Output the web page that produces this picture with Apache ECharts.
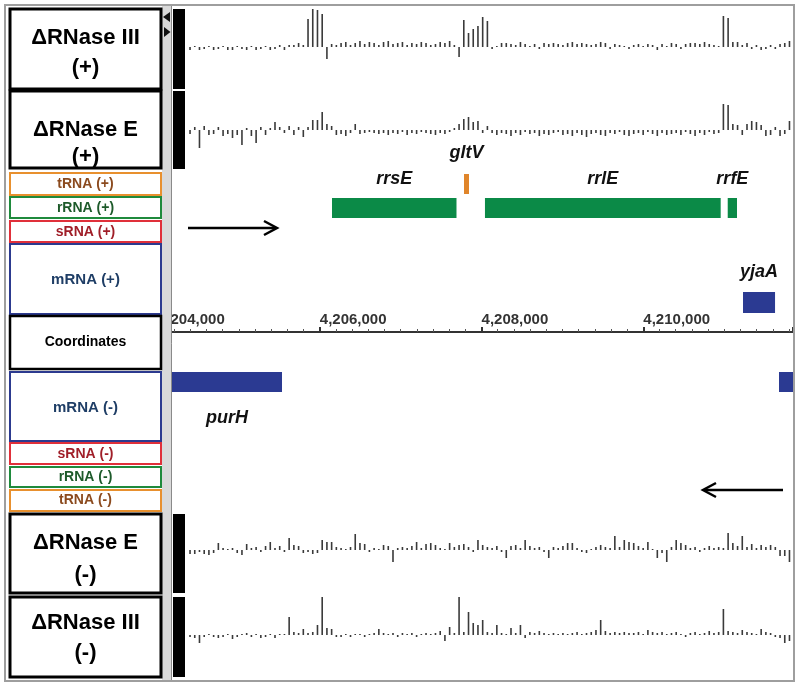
<!DOCTYPE html>
<html><head><meta charset="utf-8">
<script src="https://cdn.jsdelivr.net/npm/echarts@6.0.0/dist/echarts.min.js"></script>
<style>html,body{margin:0;padding:0;background:#fff}#c{width:800px;height:687px}</style>
</head><body><div id="c"></div>
<script>
// ---------------- DATA ----------------
const viewStart = 4204000, viewEnd = 4211850;
const tickValues = [4204000, 4206000, 4208000, 4210000];
const tickLabels = ['4,204,000', '4,206,000', '4,208,000', '4,210,000'];

// coverage bins (genomic start of first bin, bin size in bp)
const binStart = 4204396, binStep = 58.35;

const rnaseIIIplus = [-3,1,-3,-2,1,-3,-2,1,-3,-3,1,-2,-3,1,-3,-2,1,-3,-2,2,-3,2,
  2,4,2,28,38,37,33,-12,
  3,2,4,5,2,4,6,3,5,4,2,5,6,3,4,5,2,4,3,5,4,2,3,5,4,6,2,
  -10,27,14,18,21,30,26,
  -2,1,4,4,3,2,5,3,1,3,-2,4,3,4,3,2,4,5,3,4,3,2,3,5,4,-2,3,2,1,-2,2,3,1,3,2,-3,3,1,4,3,-2,3,4,4,3,5,3,2,1,
  31,29,5,5,2,4,-2,2,-3,-2,2,-2,3,4,6];

const rnaseEplus = [-4,3,-18,4,-5,-4,3,-6,-4,-8,-5,-15,2,-6,-13,3,-5,2,8,3,-3,4,-5,3,-7,
  3,10,10,18,6,4,
  -5,-4,-6,-3,6,-4,-3,-2,-3,-4,-3,-5,-3,-4,-2,-5,-3,-4,-2,-3,-4,-5,-3,-4,-2,
  2,6,11,13,8,9,-3,
  4,-3,-5,-3,-4,-6,-3,-5,-2,-4,-3,-6,-4,-5,-3,-2,-5,-4,-6,-3,-5,-7,-4,-3,-5,-6,-3,-4,-2,-5,-6,-4,-3,-5,-2,-4,-6,-3,-5,-4,-3,-5,-2,-4,-6,-3,-5,-2,-4,-3,
  26,25,6,5,-5,6,9,8,5,-6,-5,3,-6,-4,9];

const rnaseEminus = [-4,-4,-2,-4,-5,-3,7,2,1,2,-3,-5,6,2,3,-2,4,8,2,4,-2,12,5,4,-3,-2,-4,-3,10,8,
  8,3,2,1,3,16,7,6,-2,2,1,5,4,-12,2,3,2,4,8,2,6,7,5,2,1,7,3,5,6,3,
  -2,10,5,3,2,4,-2,-8,4,5,2,10,4,2,3,-2,-8,3,2,4,7,7,2,-2,-3,1,3,5,3,2,
  14,3,10,8,7,4,2,8,1,-8,-3,-12,3,10,7,5,2,3,-2,2,4,2,3,2,17,7,4,14,3,6,
  2,5,3,5,3,-6,-6,-12];

const rnaseIIIminus = [-2,-3,-8,-2,1,-2,-3,-2,1,-4,-2,1,2,-2,1,-3,-2,1,-3,1,1,18,3,2,6,2,3,10,38,7,
  6,-2,-2,1,-2,1,1,-2,1,2,6,2,1,2,-2,2,1,2,-2,1,2,1,2,4,-6,8,2,38,3,23,
  12,10,15,3,2,10,2,1,7,2,10,-3,3,2,4,2,1,2,1,2,1,2,3,1,2,3,5,15,4,2,
  3,2,3,2,2,3,1,5,3,2,3,1,2,3,1,-2,2,3,1,2,4,2,3,26,4,3,2,5,3,2,
  1,6,3,2,-2,-3,-8,-6];

// genes
const geneNames = ['rrsE', 'gltV', 'rrlE', 'rrfE', 'yjaA', 'purH', ''];
const geneStart = [4206151, 4207783, 4208042, 4211043, 4211232, 4204173, 4211677];
const geneEnd   = [4207690, 4207845, 4210956, 4211158, 4211628, 4205533, 4211850];
const geneLane  = ['rRNA+', 'tRNA+', 'rRNA+', 'rRNA+', 'mRNA+', 'mRNA-', 'mRNA-'];

// left panel labels
const trackLabels = ['ΔRNase III\n(+)', 'ΔRNase E\n(+)', 'tRNA (+)', 'rRNA (+)', 'sRNA (+)', 'mRNA (+)',
  'Coordinates', 'mRNA (-)', 'sRNA (-)', 'rRNA (-)', 'tRNA (-)', 'ΔRNase E\n(-)', 'ΔRNase III\n(-)'];

// ---------------- LAYOUT / STYLE ----------------
const GL = 158, GR = 7;
const laneStyle = {
  'tRNA+': {y: 174, h: 20, color: '#e0852a', labelY: 153},
  'rRNA+': {y: 198, h: 20, color: '#0b8a47', labelY: 179.5},
  'mRNA+': {y: 292, h: 21, color: '#2b3a92', labelY: 272},
  'mRNA-': {y: 372, h: 20, color: '#2b3a92', labelY: 418}
};
const boxStyle = [
  {y: 9,   h: 80, stroke: '#000',    lw: 3, fill: '#000',    font: 'bold 22px "Liberation Sans", Arial', ty: 53, lh: 30},
  {y: 91,  h: 77, stroke: '#000',    lw: 3, fill: '#000',    font: 'bold 22px "Liberation Sans", Arial', ty: 143.5, lh: 27},
  {y: 173, h: 22, stroke: '#e8902e', lw: 2, fill: '#8b4a1e', font: 'bold 14px "Liberation Sans", Arial', ty: 184.5},
  {y: 197, h: 21, stroke: '#1f8a3c', lw: 2, fill: '#1d5a2a', font: 'bold 14px "Liberation Sans", Arial', ty: 208},
  {y: 221, h: 21, stroke: '#e0303a', lw: 2, fill: '#a01e28', font: 'bold 14px "Liberation Sans", Arial', ty: 232},
  {y: 244, h: 70, stroke: '#2c3a8f', lw: 2, fill: '#1f3e66', font: 'bold 15px "Liberation Sans", Arial', ty: 280},
  {y: 316, h: 53, stroke: '#000',    lw: 2.5, fill: '#000',  font: 'bold 14px "Liberation Sans", Arial', ty: 342},
  {y: 372, h: 69, stroke: '#2c3a8f', lw: 2, fill: '#1f3e66', font: 'bold 15px "Liberation Sans", Arial', ty: 408},
  {y: 443, h: 21, stroke: '#e0303a', lw: 2, fill: '#a01e28', font: 'bold 14px "Liberation Sans", Arial', ty: 454},
  {y: 467, h: 20, stroke: '#1f8a3c', lw: 2, fill: '#1d5a2a', font: 'bold 14px "Liberation Sans", Arial', ty: 477.5},
  {y: 490, h: 21, stroke: '#e8902e', lw: 2, fill: '#8b4a1e', font: 'bold 14px "Liberation Sans", Arial', ty: 500.5},
  {y: 514, h: 79, stroke: '#000',    lw: 3, fill: '#000',    font: 'bold 22px "Liberation Sans", Arial', ty: 559, lh: 32},
  {y: 597, h: 80, stroke: '#000',    lw: 3, fill: '#000',    font: 'bold 22px "Liberation Sans", Arial', ty: 638, lh: 30}
];
const tracks = [
  {data: rnaseIIIplus,  top: 9,   height: 80, min: -42, max: 38},
  {data: rnaseEplus,    top: 91,  height: 78, min: -39, max: 39},
  {data: rnaseEminus,   top: 514, height: 79, min: -43, max: 36},
  {data: rnaseIIIminus, top: 597, height: 80, min: -42, max: 38}
];

// ---------------- BUILD ----------------
const grids = [], xAxes = [], yAxes = [], series = [];
function hiddenX(i) {
  return {gridIndex: i, type: 'value', min: viewStart, max: viewEnd, show: false};
}
tracks.forEach((t, k) => {
  grids.push({left: GL, right: GR, top: t.top, height: t.height, outerBoundsMode: 'none', containLabel: false});
  xAxes.push(hiddenX(k));
  yAxes.push({gridIndex: k, type: 'value', min: t.min, max: t.max, show: false});
  series.push({
    type: 'bar', xAxisIndex: k, yAxisIndex: k, barWidth: 1.6,
    itemStyle: {color: '#3a3a3a'}, silent: true,
    data: t.data.map((v, i) => [binStart + i * binStep, v])
  });
});

// gene track grid
const gIdx = grids.length;
grids.push({left: GL, right: GR, top: 150, bottom: 170, outerBoundsMode: 'none', containLabel: false});
xAxes.push(hiddenX(gIdx));
yAxes.push({gridIndex: gIdx, type: 'value', min: 0, max: 1, show: false});
series.push({
  type: 'custom', xAxisIndex: gIdx, yAxisIndex: gIdx, silent: true,
  encode: {x: [0, 1]},
  data: geneNames.map((n, i) => [geneStart[i], geneEnd[i], i]),
  renderItem: function (params, api) {
    const i = api.value(2);
    const s = api.coord([api.value(0), 0])[0];
    const e = api.coord([api.value(1), 0])[0];
    const lane = laneStyle[geneLane[i]];
    const children = [{
      type: 'rect', shape: {x: s, y: lane.y, width: e - s, height: lane.h},
      style: {fill: lane.color}
    }];
    if (geneNames[i]) {
      children.push({
        type: 'text',
        style: {text: geneNames[i], x: (s + e) / 2, y: lane.labelY, fill: '#111',
          font: 'italic bold 18px "Liberation Sans", Arial', align: 'center', verticalAlign: 'middle'}
      });
    }
    return {type: 'group', children: children};
  }
});

// coordinate axis grid
const aIdx = grids.length;
grids.push({left: GL, right: GR, top: 300, height: 32, outerBoundsMode: 'none', containLabel: false});
xAxes.push({
  gridIndex: aIdx, type: 'value', min: viewStart, max: viewEnd, interval: 2000,
  position: 'bottom',
  axisLine: {show: true, lineStyle: {color: '#333', width: 2}},
  axisTick: {show: true, inside: true, length: 5, lineStyle: {color: '#333', width: 2}},
  minorTick: {show: true, splitNumber: 10, length: 3, lineStyle: {color: '#555', width: 1}},
  splitLine: {show: false},
  axisLabel: {
    show: true, inside: true, align: 'left', verticalAlign: 'bottom', margin: 5,
    color: '#333', fontSize: 15, fontWeight: 'bold', fontFamily: '"Liberation Sans", Arial',
    showMinLabel: true, showMaxLabel: false,
    formatter: v => { const k = tickValues.indexOf(v); return k >= 0 ? tickLabels[k] : ''; }
  }
});
yAxes.push({gridIndex: aIdx, type: 'value', min: 0, max: 1, show: false});
series.push({type: 'line', xAxisIndex: aIdx, yAxisIndex: aIdx, data: [], silent: true});

// graphics: left panel, strip, frame, arrows
const G = [];
G.push({type: 'rect', z: 10, shape: {x: 5, y: 5, width: 157, height: 677}, style: {fill: '#fff'}});
G.push({type: 'rect', z: 10, shape: {x: 162, y: 5, width: 10, height: 677}, style: {fill: '#d9d9d9'}});
G.push({type: 'line', z: 11, shape: {x1: 171.5, y1: 5, x2: 171.5, y2: 682}, style: {stroke: '#8a8a8a', lineWidth: 1}});
G.push({type: 'polygon', z: 12, shape: {points: [[170, 12], [163, 17], [170, 22]]}, style: {fill: '#111'}});
G.push({type: 'polygon', z: 12, shape: {points: [[164, 27], [170.5, 32], [164, 37]]}, style: {fill: '#111'}});
boxStyle.forEach((b, i) => {
  G.push({type: 'rect', z: 12, shape: {x: 10, y: b.y, width: 151, height: b.h},
    style: {fill: '#fff', stroke: b.stroke, lineWidth: b.lw}});
  G.push({type: 'text', z: 13, x: 85.5, y: b.ty,
    style: {text: trackLabels[i], font: b.font, fill: b.fill, align: 'center', verticalAlign: 'middle', lineHeight: b.lh || 16}});
});
// black scale bars of the coverage tracks
tracks.forEach(t => {
  G.push({type: 'rect', z: 12, shape: {x: 173, y: t.top, width: 12, height: t.height}, style: {fill: '#000'}});
});
// strand arrows
G.push({type: 'line', z: 12, shape: {x1: 188, y1: 228, x2: 276, y2: 228}, style: {stroke: '#000', lineWidth: 2.5}});
G.push({type: 'polyline', z: 12, shape: {points: [[264, 221], [277, 228], [264, 235]]}, style: {stroke: '#000', lineWidth: 2.5, fill: null}});
G.push({type: 'line', z: 12, shape: {x1: 705, y1: 490, x2: 783, y2: 490}, style: {stroke: '#000', lineWidth: 2.5}});
G.push({type: 'polyline', z: 12, shape: {points: [[716, 483], [703, 490], [716, 497]]}, style: {stroke: '#000', lineWidth: 2.5, fill: null}});
// outer frame
G.push({type: 'rect', z: 14, shape: {x: 5, y: 5, width: 789, height: 676}, style: {fill: null, stroke: '#9e9e9e', lineWidth: 2}});

const chart = echarts.init(document.getElementById('c'), null, {renderer: 'canvas'});
chart.setOption({
  animation: false,
  backgroundColor: '#fff',
  grid: grids, xAxis: xAxes, yAxis: yAxes, series: series,
  graphic: {elements: G}
});
</script></body></html>
